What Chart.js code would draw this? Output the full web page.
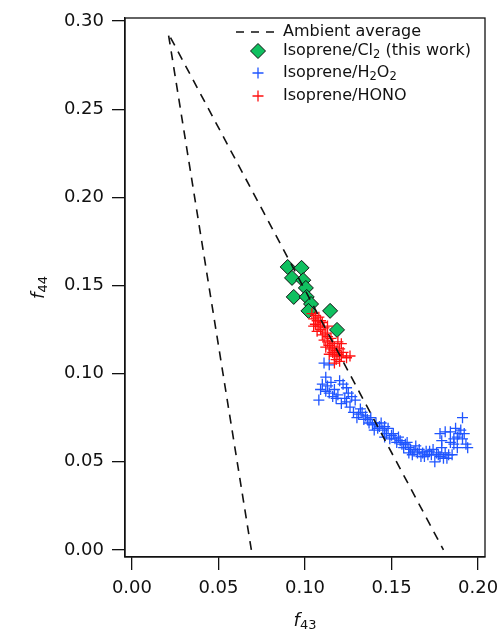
<!DOCTYPE html>
<html>
<head>
<meta charset="utf-8">
<script src="https://cdn.jsdelivr.net/npm/chart.js@4/dist/chart.umd.min.js"></script>
<style>
  html, body { margin: 0; padding: 0; background: #fff; }
  #wrap { width: 501px; height: 633px; }
</style>
</head>
<body>
<div id="wrap"><canvas id="c" width="501" height="633"></canvas></div>
<script>
// x = f43, y = f44
const ambientX = [0.069, 0.021, 0.180];
const ambientY = [0.000, 0.293, 0.000];

const cl2X = [0.090, 0.098, 0.0925, 0.099, 0.1005, 0.0935, 0.101, 0.1035, 0.102, 0.1145, 0.1185];
const cl2Y = [0.1605, 0.160, 0.1543, 0.153, 0.1486, 0.1435, 0.1435, 0.1395, 0.1356, 0.1356, 0.1248];

const honoX = [0.104, 0.106, 0.105, 0.107, 0.108, 0.106, 0.108, 0.110, 0.109, 0.111, 0.107, 0.110, 0.112, 0.113,
  0.111, 0.113, 0.115, 0.114, 0.116, 0.112, 0.115, 0.117, 0.116, 0.118, 0.114, 0.117, 0.119, 0.120, 0.118, 0.121,
  0.120, 0.122, 0.124, 0.126, 0.119, 0.121, 0.109, 0.113, 0.105, 0.117];
const honoY = [0.134, 0.133, 0.131, 0.130, 0.132, 0.128, 0.127, 0.129, 0.125, 0.126, 0.124, 0.122, 0.123, 0.121,
  0.119, 0.118, 0.120, 0.116, 0.117, 0.115, 0.114, 0.115, 0.112, 0.113, 0.111, 0.110, 0.111, 0.114, 0.108, 0.110,
  0.107, 0.112, 0.109, 0.110, 0.118, 0.117, 0.130, 0.127, 0.127, 0.106];

const h2o2X = [0.111, 0.114, 0.112, 0.110, 0.113, 0.108, 0.120, 0.122, 0.114, 0.116, 0.118, 0.112, 0.125, 0.127,
  0.129, 0.121, 0.124, 0.126, 0.128, 0.131, 0.133, 0.130, 0.134, 0.136, 0.137, 0.139, 0.141, 0.143, 0.140, 0.145,
  0.144, 0.147, 0.148, 0.150, 0.149, 0.152, 0.153, 0.155, 0.156, 0.158, 0.157, 0.160, 0.161, 0.163, 0.162, 0.165,
  0.166, 0.168, 0.169, 0.171, 0.172, 0.173, 0.175, 0.176, 0.178, 0.180, 0.181, 0.183, 0.185, 0.179, 0.179, 0.178,
  0.181, 0.184, 0.186, 0.188, 0.186, 0.190, 0.191, 0.191, 0.193, 0.194, 0.189, 0.187,
  0.117, 0.119, 0.123, 0.132, 0.135, 0.138, 0.142, 0.146, 0.151, 0.154, 0.159, 0.164, 0.167, 0.170, 0.174, 0.177,
  0.182, 0.184, 0.188, 0.192, 0.115, 0.124, 0.109, 0.160, 0.146];
const h2o2Y = [0.106, 0.105, 0.098, 0.094, 0.093, 0.085, 0.096, 0.094, 0.089, 0.087, 0.086, 0.090, 0.089, 0.087,
  0.085, 0.083, 0.084, 0.081, 0.078, 0.077, 0.078, 0.075, 0.074, 0.074, 0.072, 0.071, 0.072, 0.070, 0.068, 0.068,
  0.072, 0.066, 0.069, 0.065, 0.063, 0.063, 0.061, 0.062, 0.060, 0.060, 0.058, 0.058, 0.057, 0.056, 0.054, 0.055,
  0.057, 0.055, 0.053, 0.054, 0.056, 0.054, 0.050, 0.055, 0.053, 0.052, 0.055, 0.054, 0.054, 0.058, 0.062, 0.066,
  0.067, 0.067, 0.063, 0.064, 0.060, 0.068, 0.075, 0.063, 0.060, 0.058, 0.066, 0.069,
  0.091, 0.088, 0.086, 0.080, 0.076, 0.075, 0.069, 0.070, 0.066, 0.064, 0.061, 0.059, 0.053, 0.056, 0.057, 0.054,
  0.052, 0.061, 0.058, 0.066, 0.095, 0.092, 0.091, 0.055, 0.064];

const xTicks = [0, 0.05, 0.10, 0.15, 0.20];
const yTicks = [0, 0.05, 0.10, 0.15, 0.20, 0.25, 0.30];

const BLUE = "#1f55ff";
const RED = "#ff1010";
const GREEN = "#10c060";
const FONT = "DejaVu Sans";

function pts(xs, ys) {
  return xs.map((x, i) => ({ x: x, y: ys[i] }));
}

// text pieces with optional subscripts
function drawRich(ctx, parts, x, y, size, italicFirst) {
  let cx = x;
  parts.forEach((p, i) => {
    const sz = p.sub ? size * 0.72 : size;
    const st = (italicFirst && i === 0) ? "italic " : "";
    ctx.font = st + sz + "px '" + FONT + "'";
    ctx.fillText(p.t, cx, p.sub ? y + size * 0.28 : y);
    cx += ctx.measureText(p.t).width;
  });
  return cx - x;
}
function richWidth(ctx, parts, size, italicFirst) {
  let w = 0;
  parts.forEach((p, i) => {
    const sz = p.sub ? size * 0.72 : size;
    const st = (italicFirst && i === 0) ? "italic " : "";
    ctx.font = st + sz + "px '" + FONT + "'";
    w += ctx.measureText(p.t).width;
  });
  return w;
}

const extras = {
  id: "extras",
  afterDraw(chart) {
    const ctx = chart.ctx;
    const a = chart.chartArea;
    ctx.save();
    ctx.strokeStyle = "#111";
    ctx.lineWidth = 1.3;
    ctx.strokeRect(a.left, a.top, a.right - a.left, a.bottom - a.top);

    ctx.fillStyle = "#111";
    ctx.textBaseline = "middle";
    ctx.textAlign = "left";

    // legend
    const lx = 258, tx = 283;
    const rows = [32, 51, 73, 96];
    ctx.setLineDash([8, 7]);
    ctx.lineWidth = 1.6;
    ctx.beginPath();
    ctx.moveTo(236, rows[0]); ctx.lineTo(274, rows[0]);
    ctx.stroke();
    ctx.setLineDash([]);

    ctx.beginPath();
    ctx.moveTo(lx, rows[1] - 7.5); ctx.lineTo(lx + 7.5, rows[1]);
    ctx.lineTo(lx, rows[1] + 7.5); ctx.lineTo(lx - 7.5, rows[1]);
    ctx.closePath();
    ctx.fillStyle = GREEN; ctx.fill();
    ctx.lineWidth = 1; ctx.strokeStyle = "#111"; ctx.stroke();

    [[rows[2], BLUE], [rows[3], RED]].forEach(([yy, col]) => {
      ctx.strokeStyle = col; ctx.lineWidth = 1.3;
      ctx.beginPath();
      ctx.moveTo(lx - 5.5, yy); ctx.lineTo(lx + 5.5, yy);
      ctx.moveTo(lx, yy - 5.5); ctx.lineTo(lx, yy + 5.5);
      ctx.stroke();
    });

    ctx.fillStyle = "#111";
    const sz = 16;
    drawRich(ctx, [{ t: "Ambient average" }], tx, rows[0], sz);
    drawRich(ctx, [{ t: "Isoprene/Cl" }, { t: "2", sub: true }, { t: " (this work)" }], tx, rows[1], sz);
    drawRich(ctx, [{ t: "Isoprene/H" }, { t: "2", sub: true }, { t: "O" }, { t: "2", sub: true }], tx, rows[2], sz);
    drawRich(ctx, [{ t: "Isoprene/HONO" }], tx, rows[3], sz);

    // axis titles
    const xt = [{ t: "f" }, { t: "43", sub: true }];
    const xw = richWidth(ctx, xt, 18, true);
    drawRich(ctx, xt, (a.left + a.right) / 2 - xw / 2, 621, 18, true);

    ctx.save();
    ctx.translate(39, (a.top + a.bottom) / 2);
    ctx.rotate(-Math.PI / 2);
    const yt = [{ t: "f" }, { t: "44", sub: true }];
    const yw = richWidth(ctx, yt, 18, true);
    drawRich(ctx, yt, -yw / 2, 0, 18, true);
    ctx.restore();

    ctx.restore();
  }
};

new Chart(document.getElementById("c").getContext("2d"), {
  type: "scatter",
  data: {
    datasets: [
      {
        label: "Ambient average",
        data: pts(ambientX, ambientY),
        showLine: true,
        borderColor: "#111",
        borderWidth: 1.6,
        borderDash: [9, 7],
        pointRadius: 0,
        fill: false,
        order: 1
      },
      {
        label: "Isoprene/HONO",
        data: pts(honoX, honoY),
        pointStyle: "cross",
        pointRadius: 5.5,
        borderColor: RED,
        borderWidth: 1.3,
        order: 2
      },
      {
        label: "Isoprene/Cl2 (this work)",
        data: pts(cl2X, cl2Y),
        pointStyle: "rectRot",
        pointRadius: 7.5,
        backgroundColor: GREEN,
        borderColor: "#111",
        borderWidth: 1,
        order: 3
      },
      {
        label: "Isoprene/H2O2",
        data: pts(h2o2X, h2o2Y),
        pointStyle: "cross",
        pointRadius: 5.5,
        borderColor: BLUE,
        borderWidth: 1.3,
        order: 4
      }
    ]
  },
  options: {
    responsive: false,
    animation: false,
    layout: { padding: { left: 0, right: 16, top: 18, bottom: 0 } },
    plugins: { legend: { display: false }, tooltip: { enabled: false } },
    scales: {
      x: {
        type: "linear",
        min: -0.004,
        max: 0.204,
        afterFit(s) { s.height = 76; s.paddingLeft = 0; s.paddingRight = 0; },
        afterBuildTicks(s) { s.ticks = xTicks.map(v => ({ value: v })); },
        ticks: {
          color: "#111",
          padding: 8,
          font: { family: FONT, size: 18 },
          callback: v => v.toFixed(2)
        },
        border: { display: true, color: "#111", width: 1.3 },
        grid: { drawOnChartArea: false, drawTicks: true, tickLength: 13, color: "#111", lineWidth: 1.3 }
      },
      y: {
        type: "linear",
        min: -0.004,
        max: 0.3017,
        afterFit(s) { s.width = 125; s.paddingTop = 0; s.paddingBottom = 0; },
        afterBuildTicks(s) { s.ticks = yTicks.map(v => ({ value: v })); },
        ticks: {
          color: "#111",
          padding: 8,
          font: { family: FONT, size: 18 },
          callback: v => v.toFixed(2)
        },
        border: { display: true, color: "#111", width: 1.3 },
        grid: { drawOnChartArea: false, drawTicks: true, tickLength: 13, color: "#111", lineWidth: 1.3 }
      }
    }
  },
  plugins: [extras]
});
</script>
</body>
</html>
